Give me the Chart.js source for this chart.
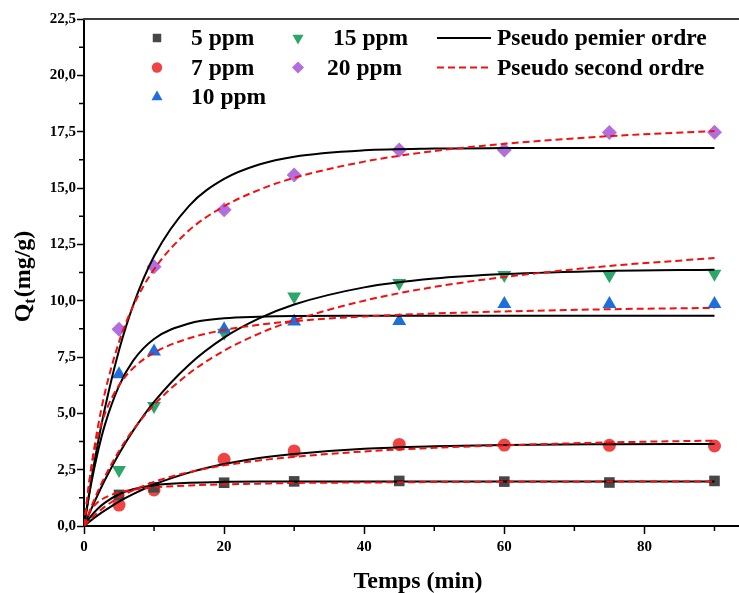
<!DOCTYPE html>
<html>
<head>
<meta charset="utf-8">
<script src="https://cdn.jsdelivr.net/npm/chart.js@4.4.1/dist/chart.umd.min.js"></script>
<style>
  body { margin: 0; background: #fff; }
  canvas { display: block; }
</style>
</head>
<body>
<canvas id="kinetics" width="739" height="593"></canvas>
<script>
// measured adsorption (mg/g) vs contact time (min)
const times = [5, 10, 20, 30, 45, 60, 75, 90];
const q5ppm = [1.38, 1.72, 1.92, 1.98, 2.0, 1.97, 1.93, 2.0];
const q7ppm = [0.93, 1.6, 2.96, 3.33, 3.62, 3.59, 3.58, 3.55];
const q10ppm = [6.73, 7.74, 8.73, 9.07, 9.1, 9.85, 9.85, 9.85];
const q15ppm = [2.49, 5.33, 8.58, 10.18, 10.78, 11.14, 11.13, 11.19];
const q20ppm = [8.73, 11.51, 14.03, 15.58, 16.69, 16.69, 17.46, 17.47];

// fitted curves, sampled along time
const fitTimes = [0, 1, 2, 3, 5, 7, 10, 15, 20, 25, 30, 40, 50, 60, 75, 90];
const pfo5 = [0, 0.44, 0.78, 1.04, 1.41, 1.63, 1.81, 1.92, 1.96, 1.97, 1.97, 1.97, 1.97, 1.97, 1.97, 1.97];
const pfo7 = [0, 0.25, 0.48, 0.69, 1.08, 1.41, 1.84, 2.37, 2.75, 3.02, 3.2, 3.43, 3.54, 3.6, 3.63, 3.64];
const pfo10 = [0, 1.84, 3.32, 4.51, 6.22, 7.33, 8.3, 8.99, 9.22, 9.29, 9.32, 9.33, 9.33, 9.33, 9.33, 9.33];
const pfo15 = [0, 0.73, 1.41, 2.05, 3.21, 4.22, 5.51, 7.16, 8.36, 9.21, 9.83, 10.59, 10.98, 11.18, 11.32, 11.37];
const pfo20 = [0, 1.97, 3.71, 5.25, 7.8, 9.78, 11.97, 14.21, 15.4, 16.04, 16.39, 16.67, 16.75, 16.77, 16.78, 16.78];
const pso5 = [0, 0.72, 1.06, 1.26, 1.49, 1.61, 1.71, 1.8, 1.85, 1.88, 1.91, 1.93, 1.95, 1.96, 1.97, 1.98];
const pso7 = [0, 0.33, 0.61, 0.86, 1.27, 1.58, 1.96, 2.39, 2.69, 2.91, 3.07, 3.31, 3.47, 3.58, 3.71, 3.79];
const pso10 = [0, 2.5, 4.0, 5.0, 6.25, 7.0, 7.69, 8.33, 8.7, 8.93, 9.09, 9.3, 9.43, 9.52, 9.62, 9.68];
const pso15 = [0, 0.82, 1.56, 2.21, 3.33, 4.26, 5.38, 6.77, 7.78, 8.54, 9.13, 10.0, 10.61, 11.05, 11.54, 11.89];
const pso20 = [0, 2.51, 4.42, 5.94, 8.17, 9.75, 11.39, 13.12, 14.19, 14.92, 15.45, 16.17, 16.64, 16.96, 17.3, 17.53];

const FONT = '"Liberation Serif", "Times New Roman", serif';

const toPoints = (xs, ys) => xs.map((x, i) => ({ x: x, y: ys[i] }));

const markers = [
  { label: '5 ppm', data: q5ppm, color: '#474747', style: 'rect', rot: 0, r: 7.5 },
  { label: '7 ppm', data: q7ppm, color: '#f04444', style: 'circle', rot: 0, r: 6.5 },
  { label: '10 ppm', data: q10ppm, color: '#1e6fdc', style: 'triangle', rot: 0, r: 8 },
  { label: '15 ppm', data: q15ppm, color: '#2ca66a', style: 'triangle', rot: 180, r: 8 },
  { label: '20 ppm', data: q20ppm, color: '#b26ede', style: 'rectRot', rot: 0, r: 7.5 }
];

const datasets = [];
markers.forEach(m => {
  datasets.push({
    label: m.label,
    data: toPoints(times, m.data),
    showLine: false,
    pointStyle: m.style,
    pointRotation: m.rot,
    pointRadius: m.r,
    pointHoverRadius: m.r,
    pointBackgroundColor: m.color,
    pointBorderWidth: 0,
    order: 3
  });
});

[pfo5, pfo7, pfo10, pfo15, pfo20].forEach((ys, i) => {
  datasets.push({
    label: i === 0 ? 'Pseudo pemier ordre' : '',
    data: toPoints(fitTimes, ys),
    showLine: true,
    borderColor: '#000',
    borderWidth: 2,
    pointRadius: 0,
    cubicInterpolationMode: 'monotone',
    order: 2
  });
});

[pso5, pso7, pso10, pso15, pso20].forEach((ys, i) => {
  datasets.push({
    label: i === 0 ? 'Pseudo second ordre' : '',
    data: toPoints(fitTimes, ys),
    showLine: true,
    borderColor: '#f01010',
    borderWidth: 2,
    borderDash: [7, 4],
    pointRadius: 0,
    cubicInterpolationMode: 'monotone',
    order: 1
  });
});

function isMajor(v, step) {
  const k = v / step;
  return Math.abs(k - Math.round(k)) < 1e-6;
}

function drawMarker(ctx, style, x, y, r, color, rot) {
  ctx.save();
  ctx.fillStyle = color;
  ctx.translate(x, y);
  ctx.rotate(rot * Math.PI / 180);
  ctx.beginPath();
  if (style === 'rect') {
    const s = r * Math.SQRT1_2;
    ctx.rect(-s, -s, 2 * s, 2 * s);
  } else if (style === 'circle') {
    ctx.arc(0, 0, r, 0, Math.PI * 2);
  } else if (style === 'triangle') {
    ctx.moveTo(0, -r);
    ctx.lineTo(r * 0.866, r * 0.5);
    ctx.lineTo(-r * 0.866, r * 0.5);
    ctx.closePath();
  } else if (style === 'rectRot') {
    ctx.moveTo(0, -r);
    ctx.lineTo(r, 0);
    ctx.lineTo(0, r);
    ctx.lineTo(-r, 0);
    ctx.closePath();
  }
  ctx.fill();
  ctx.restore();
}

// frame top, minor ticks, axis titles and the legend box
const decorations = {
  id: 'decorations',
  afterDraw(chart) {
    const ctx = chart.ctx;
    const area = chart.chartArea;
    const xs = chart.scales.x;
    const ys = chart.scales.y;
    ctx.save();

    ctx.strokeStyle = '#3c3c3c';
    ctx.lineWidth = 2;
    ctx.beginPath();
    ctx.moveTo(area.left - 1, area.top);
    ctx.lineTo(chart.width, area.top);
    ctx.stroke();

    ctx.strokeStyle = '#000';
    ctx.lineWidth = 1.5;
    ctx.beginPath();
    for (let v = 10; v <= 90; v += 20) {
      const px = xs.getPixelForValue(v);
      ctx.moveTo(px, area.bottom);
      ctx.lineTo(px, area.bottom + 5);
    }
    for (let v = 1.25; v < 22.5; v += 2.5) {
      const py = ys.getPixelForValue(v);
      ctx.moveTo(area.left, py);
      ctx.lineTo(area.left - 5, py);
    }
    ctx.stroke();

    ctx.fillStyle = '#000';
    ctx.font = 'bold 24px ' + FONT;
    ctx.textAlign = 'center';
    ctx.textBaseline = 'alphabetic';
    ctx.fillText('Temps (min)', 418, 588);

    // rotated y title with subscript t
    ctx.save();
    ctx.translate(30, 277);
    ctx.rotate(-Math.PI / 2);
    ctx.textAlign = 'left';
    ctx.font = 'bold 24px ' + FONT;
    const wQ = ctx.measureText('Q').width;
    ctx.font = 'bold 16px ' + FONT;
    const wt = ctx.measureText('t').width;
    ctx.font = 'bold 24px ' + FONT;
    const wRest = ctx.measureText('(mg/g)').width;
    let x0 = -(wQ + wt + wRest) / 2;
    ctx.fillText('Q', x0, 0);
    ctx.font = 'bold 16px ' + FONT;
    ctx.fillText('t', x0 + wQ, 5);
    ctx.font = 'bold 24px ' + FONT;
    ctx.fillText('(mg/g)', x0 + wQ + wt + 1, 0);
    ctx.restore();

    // legend
    ctx.font = 'bold 23.5px ' + FONT;
    ctx.textAlign = 'left';
    ctx.textBaseline = 'middle';
    const rows = [38, 67.5, 97];
    const slots = [
      { mx: 157, tx: 191, y: rows[0] },
      { mx: 157, tx: 191, y: rows[1] },
      { mx: 157, tx: 191, y: rows[2] },
      { mx: 298, tx: 333, y: rows[0] },
      { mx: 298, tx: 327, y: rows[1] }
    ];
    markers.forEach((m, i) => {
      const s = slots[i];
      drawMarker(ctx, m.style, s.mx, s.y, m.r * 0.8, m.color, m.rot);
      ctx.fillStyle = '#000';
      ctx.fillText(m.label, s.tx, s.y + 1);
    });

    const lineItems = [datasets[5], datasets[10]];
    lineItems.forEach((ds, i) => {
      const y = rows[i];
      ctx.strokeStyle = ds.borderColor;
      ctx.lineWidth = 2;
      ctx.setLineDash(ds.borderDash || []);
      ctx.beginPath();
      ctx.moveTo(437, y);
      ctx.lineTo(491, y);
      ctx.stroke();
      ctx.setLineDash([]);
      ctx.fillStyle = '#000';
      ctx.fillText(ds.label, 497, y + 1);
    });

    ctx.restore();
  }
};

const tickFont = { family: FONT, size: 15, weight: 'bold' };

new Chart(document.getElementById('kinetics'), {
  type: 'scatter',
  data: { datasets: datasets },
  options: {
    responsive: false,
    animation: false,
    layout: { autoPadding: false, padding: { top: 19, left: 0, right: 0, bottom: 0 } },
    plugins: {
      legend: { display: false },
      tooltip: { enabled: false }
    },
    scales: {
      x: {
        type: 'linear',
        min: 0,
        max: 93.5,
        afterFit: s => { s.height = 67; s.paddingLeft = 0; s.paddingRight = 0; },
        border: { display: true, color: '#000', width: 2 },
        grid: {
          drawOnChartArea: false,
          tickLength: 8,
          tickWidth: 1.5,
          tickColor: c => (c.tick && isMajor(c.tick.value, 20)) ? '#000' : 'rgba(0,0,0,0)'
        },
        ticks: {
          stepSize: 10,
          includeBounds: false,
          autoSkip: false,
          maxRotation: 0,
          padding: 4,
          color: '#000',
          font: tickFont,
          callback: v => isMajor(v, 20) ? String(v) : ''
        }
      },
      y: {
        type: 'linear',
        min: 0,
        max: 22.5,
        afterFit: s => { s.width = 84; s.paddingTop = 0; s.paddingBottom = 0; },
        border: { display: true, color: '#000', width: 2 },
        grid: {
          drawOnChartArea: false,
          tickLength: 7,
          tickWidth: 1.5,
          tickColor: c => (c.tick && isMajor(c.tick.value, 2.5)) ? '#000' : 'rgba(0,0,0,0)'
        },
        ticks: {
          stepSize: 1.25,
          autoSkip: false,
          padding: 1,
          color: '#000',
          font: tickFont,
          callback: v => isMajor(v, 2.5) ? v.toFixed(1).replace('.', ',') : ''
        }
      }
    }
  },
  plugins: [decorations]
});
</script>
</body>
</html>
